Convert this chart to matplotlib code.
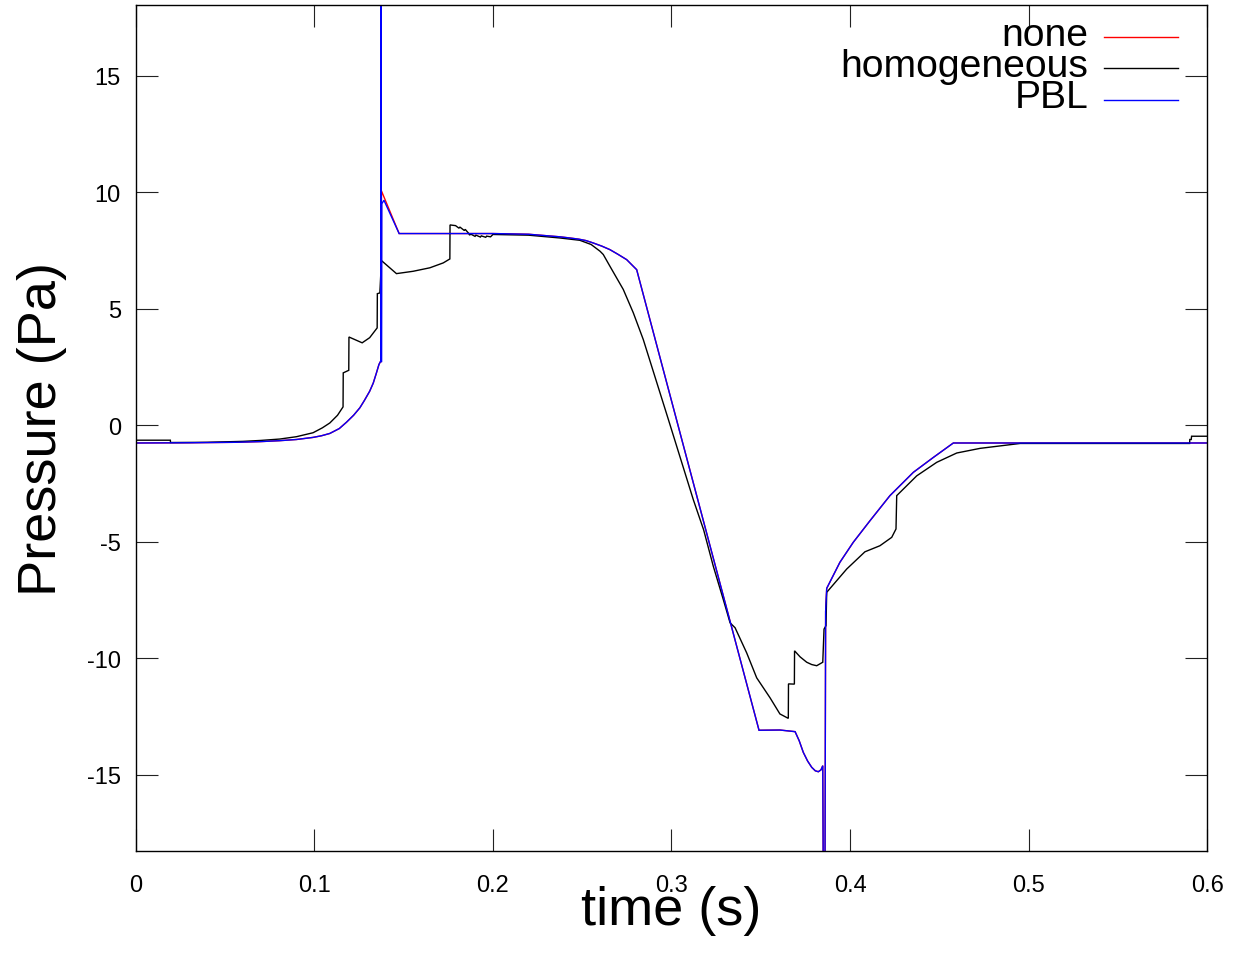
import matplotlib
matplotlib.use("Agg")
import matplotlib.pyplot as plt
import matplotlib.transforms as mtransforms

plt.rcParams['font.family'] = ['Liberation Sans', 'DejaVu Sans']
plt.rcParams['axes.unicode_minus'] = False

# ---------------- data ----------------
pbl_t = [0.0, 0.03, 0.056, 0.07, 0.0807, 0.09, 0.0993, 0.104, 0.1087, 0.114, 0.118, 0.122,
         0.1255, 0.128, 0.131, 0.133, 0.1348, 0.1362, 0.1372, 0.1373, 0.1376, 0.1378,
         0.1390, 0.1475, 0.20, 0.22, 0.2375, 0.243, 0.248, 0.252, 0.256, 0.261, 0.2655,
         0.27, 0.2749, 0.2775, 0.2805,
         0.349, 0.3607, 0.3692, 0.3715, 0.3738, 0.3762, 0.3785, 0.3805, 0.3822, 0.3837,
         0.3847, 0.3856, 0.3863, 0.3869,
         0.3943, 0.4018, 0.4111, 0.4223, 0.4354, 0.4466, 0.4578, 0.6]
pbl_p = [-0.77, -0.76, -0.74, -0.71, -0.67, -0.62, -0.53, -0.46, -0.36, -0.15, 0.12, 0.42,
         0.74, 1.05, 1.45, 1.8, 2.24, 2.6, 2.75, 30.0, 2.7, 9.5,
         9.65, 8.22, 8.22, 8.19, 8.08, 8.03, 7.98, 7.92, 7.82, 7.68, 7.53,
         7.33, 7.1, 6.9, 6.67,
         -13.1, -13.09, -13.16, -13.55, -14.05, -14.42, -14.69, -14.84, -14.88, -14.8,
         -14.62, -30.0, -8.0, -7.01,
         -5.89, -5.03, -4.11, -3.03, -2.03, -1.39, -0.77, -0.77]

none_t = [0.0, 0.03, 0.056, 0.07, 0.0807, 0.09, 0.0993, 0.104, 0.1087, 0.114, 0.118, 0.122,
          0.1255, 0.128, 0.131, 0.133, 0.1348, 0.1362, 0.1372, 0.1373, 0.1375, 0.1376,
          0.1475, 0.20, 0.22, 0.2375, 0.243, 0.248, 0.252, 0.256, 0.261, 0.2655,
          0.27, 0.2749, 0.2775, 0.2805,
          0.349, 0.3607, 0.3692, 0.3715, 0.3738, 0.3762, 0.3785, 0.3805, 0.3822, 0.3837,
          0.3847, 0.3856, 0.3863, 0.3869,
          0.3943, 0.4018, 0.4111, 0.4223, 0.4354, 0.4466, 0.4578, 0.6]
none_p = [-0.77, -0.76, -0.74, -0.71, -0.67, -0.62, -0.53, -0.46, -0.36, -0.15, 0.12, 0.42,
          0.74, 1.05, 1.45, 1.8, 2.24, 2.6, 2.75, 30.0, 2.7, 10.05,
          8.22, 8.22, 8.19, 8.08, 8.03, 7.98, 7.92, 7.82, 7.68, 7.53,
          7.33, 7.1, 6.9, 6.67,
          -13.1, -13.09, -13.16, -13.55, -14.05, -14.42, -14.69, -14.84, -14.88, -14.8,
          -14.62, -30.0, -8.0, -7.01,
          -5.89, -5.03, -4.11, -3.03, -2.03, -1.39, -0.77, -0.77]

homo_t = [0.0, 0.0194, 0.0195, 0.04, 0.06, 0.07, 0.0807, 0.09, 0.0993, 0.1045, 0.1087,
          0.113, 0.1161, 0.1162, 0.1193, 0.1194, 0.1268, 0.131, 0.1352, 0.1353, 0.1367,
          0.1376, 0.146, 0.1553, 0.1647, 0.1722, 0.1759, 0.176, 0.1791,
          0.181, 0.1815, 0.184, 0.1845, 0.1862, 0.187, 0.1875, 0.19, 0.1905, 0.193,
          0.1935, 0.196, 0.1965, 0.1987, 0.2, 0.22, 0.2375, 0.2487, 0.255, 0.26, 0.2618,
          0.2655, 0.273, 0.2786, 0.2842, 0.298, 0.3122, 0.318, 0.3234, 0.329, 0.3328,
          0.3356, 0.3421, 0.3477, 0.3552, 0.3607, 0.3654, 0.3655, 0.3688, 0.3689,
          0.372, 0.3757, 0.3785, 0.3813, 0.3847, 0.3854, 0.3865, 0.3869, 0.3981, 0.4083,
          0.4167, 0.4233, 0.4257, 0.4261, 0.4373, 0.4485, 0.4597, 0.4728, 0.4952,
          0.5901, 0.5902, 0.591, 0.5912, 0.6]
homo_p = [-0.65, -0.65, -0.75, -0.74, -0.70, -0.66, -0.6, -0.5, -0.33, -0.12, 0.09,
          0.42, 0.78, 2.24, 2.35, 3.78, 3.53, 3.75, 4.17, 5.64, 5.67,
          7.06, 6.5, 6.6, 6.75, 6.96, 7.13, 8.59, 8.56,
          8.45, 8.5, 8.35, 8.4, 8.25, 8.15, 8.2, 8.1, 8.15, 8.07,
          8.12, 8.06, 8.11, 8.08, 8.18, 8.15, 8.03, 7.93, 7.75, 7.46, 7.32,
          6.82, 5.82, 4.82, 3.67, 0.3, -3.2, -4.5, -6.06, -7.49, -8.49,
          -8.7, -9.78, -10.85, -11.71, -12.4, -12.59, -11.11, -11.12, -9.69,
          -9.95, -10.18, -10.28, -10.33, -10.18, -8.76, -8.61, -7.18, -6.18, -5.44,
          -5.18, -4.82, -4.46, -3.03, -2.18, -1.6, -1.2, -1.0, -0.79,
          -0.79, -0.62, -0.62, -0.48, -0.48]

series_names = ["none", "homogeneous", "PBL"]
series_colors = ["#ff0000", "#000000", "#0000ff"]

x_ticks = [0.0, 0.1, 0.2, 0.3, 0.4, 0.5, 0.6]
x_tick_labels = ["0", "0.1", "0.2", "0.3", "0.4", "0.5", "0.6"]
y_ticks = [-15, -10, -5, 0, 5, 10, 15]
y_tick_labels = ["-15", "-10", "-5", "0", "5", "10", "15"]

# ---------------- figure ----------------
W, H = 1239, 954
fig = plt.figure(figsize=(W / 100, H / 100), dpi=100)
ax = fig.add_axes([135.7 / W, (H - 851.7) / H, (1207.3 - 135.7) / W, (851.7 - 6) / H])

for t, p, c in zip([none_t, homo_t, pbl_t], [none_p, homo_p, pbl_p], series_colors):
    ax.plot(t, p, color=c, lw=1.0, solid_joinstyle='miter')

ax.set_xlim(0, 0.6)
ax.set_ylim(-18.27, 18.03)
ax.set_xticks(x_ticks)
ax.set_xticklabels(x_tick_labels)
ax.set_yticks(y_ticks)
ax.set_yticklabels(y_tick_labels)

ax.tick_params(axis='both', which='major', direction='in', length=15.6, width=0.8,
               top=True, right=True, labelsize=17, color='#222222')
ax.tick_params(axis='x', pad=16.5)
ax.tick_params(axis='y', pad=10.6)
for s in ax.spines.values():
    s.set_linewidth(1.0)
    s.set_color('black')

ax.set_xlabel("time (s)", fontsize=39)
ax.xaxis.set_label_coords(0.5, -0.0867)
ax.xaxis.label.set_va('baseline')
ax.set_ylabel("Pressure (Pa)", fontsize=39)
ax.yaxis.set_label_coords(-0.0641, 0.5)

# legend (gnuplot style: right-aligned text, sample line to the right)
row_y = [0.9622, 0.9251, 0.888]
text_off = mtransforms.ScaledTranslation(0, -7.7 / 100, fig.dpi_scale_trans)
for name, c, yy in zip(series_names, series_colors, row_y):
    ax.text(0.8887, yy, name, transform=ax.transAxes + text_off, ha='right',
            va='baseline', fontsize=28.2)
    ax.plot([0.9038, 0.9728], [yy, yy], color=c, lw=1.0, transform=ax.transAxes,
            clip_on=False)

fig.savefig("out.png", dpi=100)
